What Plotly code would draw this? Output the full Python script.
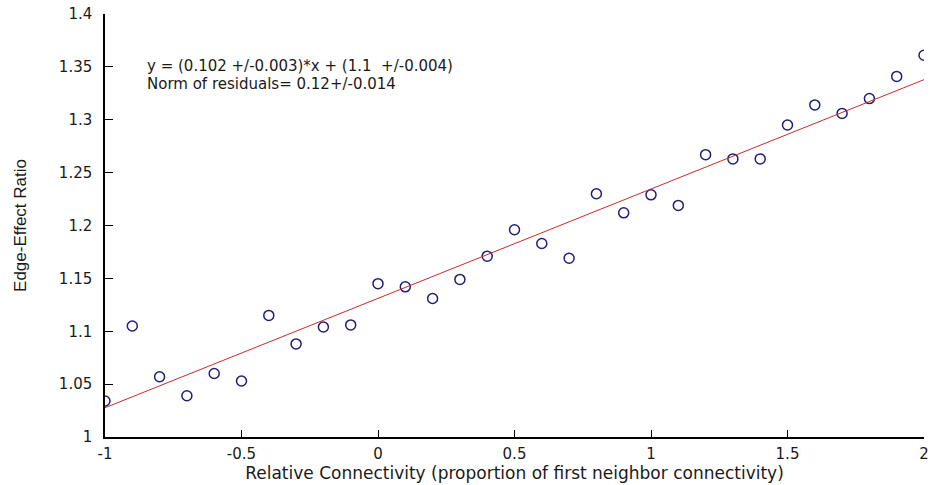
import numpy as np
import plotly.graph_objects as go

# Relative connectivity values and measured edge-effect ratios
connectivity = [-1.0, -0.9, -0.8, -0.7, -0.6, -0.5, -0.4, -0.3, -0.2, -0.1,
                0.0, 0.1, 0.2, 0.3, 0.4, 0.5, 0.6, 0.7, 0.8, 0.9,
                1.0, 1.1, 1.2, 1.3, 1.4, 1.5, 1.6, 1.7, 1.8, 1.9, 2.0]
edge_ratio = [1.034, 1.105, 1.057, 1.039, 1.060, 1.053, 1.115, 1.088, 1.104, 1.106,
              1.145, 1.142, 1.131, 1.149, 1.171, 1.196, 1.183, 1.169, 1.230, 1.212,
              1.229, 1.219, 1.267, 1.263, 1.263, 1.295, 1.314, 1.306, 1.320, 1.341, 1.361]

x_ticks = [-1, -0.5, 0, 0.5, 1, 1.5, 2]
x_tick_text = ["-1", "-0.5", "0", "0.5", "1", "1.5", "2"]
y_ticks = [1, 1.05, 1.1, 1.15, 1.2, 1.25, 1.3, 1.35, 1.4]
y_tick_text = ["1", "1.05", "1.1", "1.15", "1.2", "1.25", "1.3", "1.35", "1.4"]

fit_text = ["y = (0.102 +/-0.003)*x + (1.1  +/-0.004)",
            "Norm of residuals= 0.12+/-0.014"]

# Least-squares linear fit through the measurements
slope, intercept = np.polyfit(connectivity, edge_ratio, 1)
fit_x = [min(connectivity), max(connectivity)]
fit_y = [slope * v + intercept for v in fit_x]

FONT = "DejaVu Sans"
TEXT_COLOR = "#1a1a1a"

fig = go.Figure()
fig.add_trace(go.Scatter(
    x=connectivity, y=edge_ratio, mode="markers",
    marker=dict(symbol="circle-open", size=10, color="#1f1f7a",
                line=dict(width=1.5, color="#1f1f7a")),
    showlegend=False, hoverinfo="x+y"))
fig.add_trace(go.Scatter(
    x=fit_x, y=fit_y, mode="lines",
    line=dict(color="#cc2a2a", width=1),
    showlegend=False, hoverinfo="skip"))

# Fit summary, two lines set just below 1.35 near the left axis
for text, yv in zip(fit_text, [1.3512, 1.3338]):
    fig.add_annotation(x=-0.853, y=yv, xref="x", yref="y", text=text,
                       showarrow=False, xanchor="left", yanchor="middle",
                       font=dict(family=FONT, size=15, color=TEXT_COLOR))

fig.update_xaxes(
    range=[-1, 2], tickvals=x_ticks, ticktext=x_tick_text,
    showgrid=False, zeroline=False, showline=True, linecolor="black", linewidth=1.5,
    ticks="inside", ticklen=7, tickwidth=1.2, tickcolor="black",
    ticklabelstandoff=2,
    tickfont=dict(family=FONT, size=15, color=TEXT_COLOR),
    title=dict(text="Relative Connectivity (proportion of first neighbor connectivity)",
               font=dict(family=FONT, size=17, color=TEXT_COLOR), standoff=2))
fig.update_yaxes(
    range=[1, 1.4], tickvals=y_ticks, ticktext=y_tick_text,
    showgrid=False, zeroline=False, showline=True, linecolor="black", linewidth=1.5,
    ticks="inside", ticklen=8, tickwidth=1.2, tickcolor="black",
    ticklabelstandoff=8,
    tickfont=dict(family=FONT, size=15, color=TEXT_COLOR),
    title=dict(text="Edge-Effect Ratio",
               font=dict(family="Liberation Sans", size=17, color=TEXT_COLOR), standoff=28))

fig.update_layout(
    width=932, height=485,
    margin=dict(l=105, r=8, t=14, b=48, autoexpand=False),
    paper_bgcolor="white", plot_bgcolor="white",
)

fig.write_html("out.html")
